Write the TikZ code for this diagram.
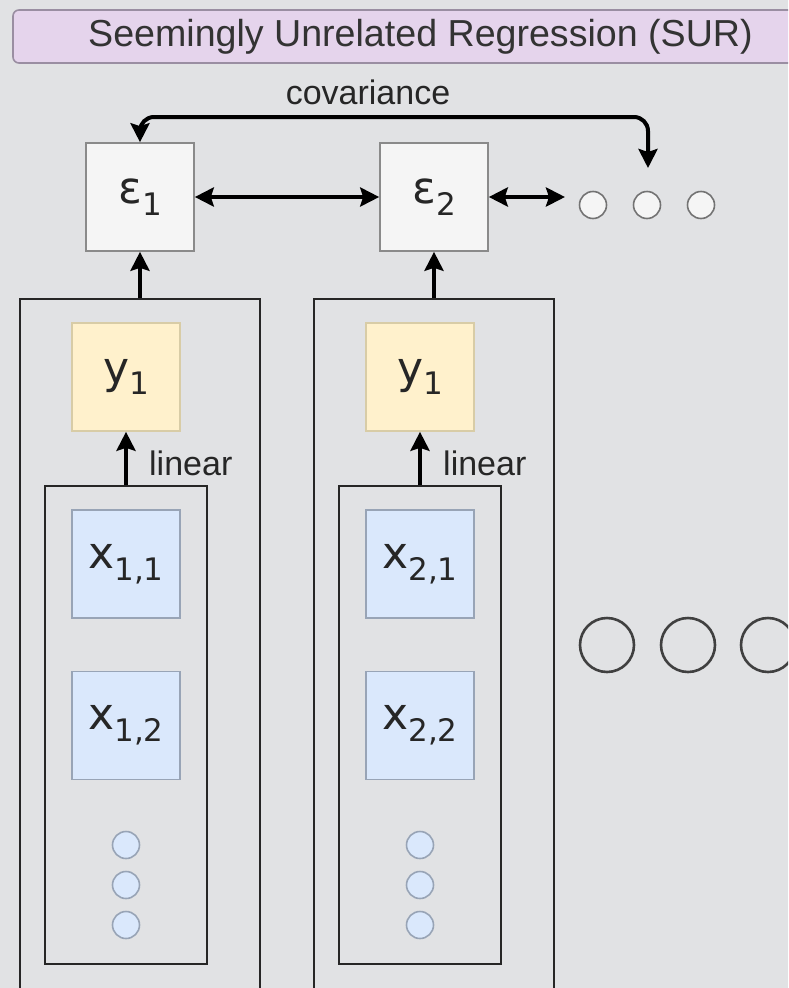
\documentclass[tikz,border=0pt]{standalone}
\usepackage{fontspec}
\setmainfont{Liberation Sans}
\newfontfamily\cellfont{DejaVu Sans}
\usetikzlibrary{arrows.meta,positioning,calc}
\definecolor{fond}{HTML}{E1E2E4}
\definecolor{titlefill}{HTML}{E5D4EC}
\definecolor{titleline}{HTML}{9A8EA2}
\definecolor{errfill}{HTML}{F5F5F5}
\definecolor{errline}{HTML}{8A8A8A}
\definecolor{respfill}{HTML}{FFF1CC}
\definecolor{respline}{HTML}{D8CCA6}
\definecolor{regfill}{HTML}{DAE8FC}
\definecolor{regline}{HTML}{98A4B6}
\newcommand\subidx[1]{\raisebox{-0.27em}{\fontsize{31}{31}\selectfont#1}}
\tikzset{
  cell/.style={rectangle, draw=#1, line width=1.6pt, minimum width=108pt, minimum height=108pt,
               inner sep=0pt, font=\cellfont\fontsize{44}{46}\selectfont, text=black!85},
  plate/.style={rectangle, draw=black!85, line width=2.4pt, inner sep=0pt},
  dot/.style={circle, draw=#1, line width=1.6pt, minimum size=27pt, inner sep=0pt},
  more/.style={circle, draw=black!75, line width=2.6pt, minimum size=54pt, inner sep=0pt},
  arr/.style={-{Stealth[length=19pt, width=19pt, inset=3pt]}, line width=4pt, draw=black},
  arr2/.style={{Stealth[length=19pt, width=19pt, inset=3pt]}-{Stealth[length=19pt, width=19pt, inset=3pt]},
               line width=4pt, draw=black},
  lbl/.style={font=\fontsize{34}{36}\selectfont, text=black!85, inner sep=0pt},
}

\begin{document}
\begin{tikzpicture}[x=1pt, y=-1pt, node distance=52pt]
  \useasboundingbox (0,0) rectangle (788,988);
  \clip (0,0) rectangle (788,988);
  \fill[fond] (0,0) rectangle (788,988);

  % banner
  \node[rectangle, rounded corners=6pt, draw=titleline, line width=1.6pt, fill=titlefill,
        minimum width=815pt, minimum height=53pt, font=\fontsize{37.6}{40}\selectfont, text=black!80]
    (ttl) at (420.5,36.5) {Seemingly Unrelated Regression (SUR)};

  % error terms and their covariance
  \node[cell=errline, fill=errfill] (e1) at (140,197) {ε\subidx{1}};
  \node[cell=errline, fill=errfill] (e2) at (434,197) {ε\subidx{2}};
  \foreach \i/\x in {1/593, 2/647, 3/701}
    \node[dot=black!55, fill=errfill] (d\i) at (\x,205) {};
  \coordinate (dd) at (565,197);
  \coordinate (ct) at (648,117);
  \coordinate (cv) at (648,168);
  \draw[arr2] (e1) -- (e2);
  \draw[arr2] (e2) -- (dd);
  \draw[arr2, rounded corners=14pt] (e1.north) |- (ct) -- (cv);
  \node[lbl] (cov) at (368,92) {covariance};

  % one plate per equation
  \foreach \k/\c/\b in {1/140/126, 2/434/420} {
    \node[plate, minimum width=240pt, minimum height=720pt, anchor=north] (o\k) at (\c,298) {};
    \node[plate, minimum width=162pt, minimum height=478pt, anchor=north] (i\k) at (\b,485) {};
    \node[cell=respline, fill=respfill] (y\k) at (\b,377) {y\subidx{1}};
    \node[cell=regline, fill=regfill] (x\k1) at (\b,564) {x\subidx{\k,1}};
    \node[cell=regline, fill=regfill, below=of x\k1] (x\k2) {x\subidx{\k,2}};
    \foreach \j/\y in {1/845, 2/885, 3/925}
      \node[dot=regline, fill=regfill] (p\k\j) at (\b,\y) {};
    \draw[arr] (o\k.north) -- (e\k.south);
    \draw[arr] (i\k.north) -- (y\k.south);
    \node[lbl, anchor=west] (lin\k) at (\b+23,463) {linear};
  }

  % further equations
  \foreach \i/\x in {1/607, 2/688, 3/768}
    \node[more] (m\i) at (\x,645) {};
\end{tikzpicture}
\end{document}
